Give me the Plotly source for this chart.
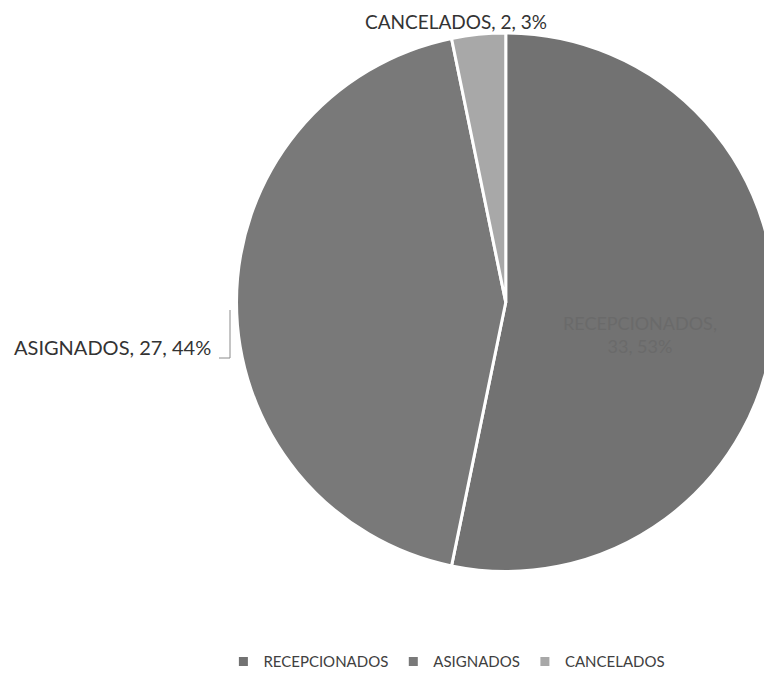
import plotly.graph_objects as go

etiquetas = ["RECEPCIONADOS", "ASIGNADOS", "CANCELADOS"]
valores = [33, 27, 2]
porcentajes = ["53%", "44%", "3%"]
colores = ["#727272", "#797979", "#a8a8a8"]

textos = [f"{e}, {v}, {p}" for e, v, p in zip(etiquetas, valores, porcentajes)]

W, H = 772, 681


def px(x, y):
    # pixeles de pantalla -> coordenadas de papel (el body tiene 8px de margen)
    return (x - 8) / W, 1 - (y - 8) / H


fig = go.Figure(go.Pie(
    labels=etiquetas,
    values=valores,
    textinfo="none",
    sort=False,
    direction="clockwise",
    rotation=0,
    marker=dict(colors=colores, line=dict(color="white", width=3)),
    domain=dict(x=[0.296, 0.9935], y=[0.172, 0.964]),
    showlegend=True,
))

# etiquetas de datos (como en Excel)
x, y = px(456, 8)
fig.add_annotation(x=x, y=y, xref="paper", yref="paper",
                   text=textos[2], showarrow=False, xanchor="center", yanchor="top",
                   font=dict(size=19, color="#333333"))
x, y = px(213, 347)
fig.add_annotation(x=x, y=y, xref="paper", yref="paper",
                   text=textos[1], showarrow=False, xanchor="right", yanchor="middle",
                   font=dict(size=20, color="#333333"))
x, y = px(640, 335)
fig.add_annotation(x=x, y=y, xref="paper", yref="paper",
                   text=f"{etiquetas[0]},<br>{valores[0]}, {porcentajes[0]}",
                   showarrow=False, xanchor="center", yanchor="middle",
                   font=dict(size=18, color="#6a6a6a"))

# línea guía de ASIGNADOS
x0, y0 = px(219, 358)
x1, y1 = px(230, 310)
fig.add_shape(type="path", xref="paper", yref="paper",
              path=f"M {x0} {y0} L {x1} {y0} L {x1} {y1}",
              line=dict(color="#8a8a8a", width=1))

fig.update_layout(
    width=W, height=H,
    margin=dict(l=0, r=0, t=0, b=0),
    paper_bgcolor="white",
    font=dict(family="Lato, Open Sans, sans-serif", color="#3a3a3a", size=15),
    legend=dict(orientation="h", x=0.279, y=0.04, xanchor="left", yanchor="middle",
                font=dict(size=15, color="#404040")),
)

fig.write_html("out.html")
